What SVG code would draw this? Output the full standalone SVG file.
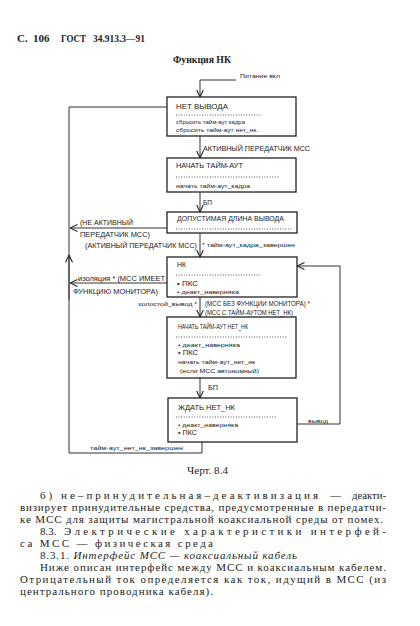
<svg xmlns="http://www.w3.org/2000/svg" width="420" height="626" viewBox="0 0 420 626">
<defs>
<marker id="arr" viewBox="0 0 8 8" refX="7.5" refY="4" markerWidth="8" markerHeight="8" markerUnits="userSpaceOnUse" orient="auto">
<path d="M0,0.5 L7.5,4 L0,7.5" fill="none" stroke="#222" stroke-width="1.1"/>
</marker>
<style>
.bx{fill:#fff;stroke:#222;stroke-width:1.3}
.ln{fill:none;stroke:#333;stroke-width:1}
.dt{stroke:#444;stroke-width:0.9;stroke-dasharray:1,1.6}
.t{font-family:"Liberation Sans",Arial,sans-serif;font-size:6px;fill:#222}
.h{font-family:"Liberation Sans",Arial,sans-serif;font-size:6.5px;fill:#222}
.p{font-family:"Liberation Serif","Times New Roman",serif;font-size:11px;fill:#222}
</style>
</defs>
<rect width="420" height="626" fill="#fff"/>
<text class="p" x="17" y="42" style="font-size:11px;font-weight:bold">С. <tspan x="33">106</tspan><tspan x="61" textLength="25" lengthAdjust="spacingAndGlyphs">ГОСТ</tspan><tspan x="93" textLength="52" lengthAdjust="spacingAndGlyphs">34.913.3—91</tspan></text>
<text class="p" x="173" y="63" style="font-size:10px;font-weight:bold" textLength="58" lengthAdjust="spacingAndGlyphs">Функция  НК</text>

<g id="connectors">
<polyline class="ln" points="236,80 200,80 200,97" marker-end="url(#arr)"/>
<line class="ln" x1="200" y1="136" x2="200" y2="158" marker-end="url(#arr)"/>
<line class="ln" x1="200" y1="192" x2="200" y2="212" marker-end="url(#arr)"/>
<line class="ln" x1="200" y1="233" x2="200" y2="257" marker-end="url(#arr)"/>
<line class="ln" x1="200" y1="297" x2="200" y2="317" marker-end="url(#arr)"/>
<line class="ln" x1="200" y1="378" x2="200" y2="398" marker-end="url(#arr)"/>
<polyline class="ln" points="202,442 202,453 69,453 69,107 167,107"/>
<line class="ln" x1="69" y1="300" x2="69" y2="255" marker-end="url(#arr)"/>
<line class="ln" x1="167" y1="228" x2="70" y2="228" marker-end="url(#arr)"/>
<line class="ln" x1="167" y1="283" x2="70" y2="283" marker-end="url(#arr)"/>
<polyline class="ln" points="297,424 340,424 340,266 297,266" marker-end="url(#arr)"/>
</g>

<g id="labels">
<text class="t" x="240" y="78" textLength="40" lengthAdjust="spacingAndGlyphs">Питание вкл</text>
<text class="h" x="203" y="151" textLength="107" lengthAdjust="spacingAndGlyphs">АКТИВНЫЙ ПЕРЕДАТЧИК МСС</text>
<text class="h" x="203" y="205" textLength="9" lengthAdjust="spacingAndGlyphs">БП</text>
<text class="h" x="80" y="225" textLength="53" lengthAdjust="spacingAndGlyphs">(НЕ АКТИВНЫЙ</text>
<text class="h" x="80" y="237" textLength="70" lengthAdjust="spacingAndGlyphs">ПЕРЕДАТЧИК МСС)</text>
<text class="h" x="85" y="248" textLength="112" lengthAdjust="spacingAndGlyphs">(АКТИВНЫЙ ПЕРЕДАТЧИК МСС)</text>
<text class="t" x="202" y="247" textLength="93" lengthAdjust="spacingAndGlyphs">* тайм-аут_кадра_завершен</text>
<text class="h" x="78" y="281" textLength="87" lengthAdjust="spacingAndGlyphs">изоляция  *  (МСС ИМЕЕТ</text>
<text class="h" x="73" y="294" textLength="85" lengthAdjust="spacingAndGlyphs">ФУНКЦИЮ МОНИТОРА)</text>
<text class="t" x="138" y="306" textLength="59" lengthAdjust="spacingAndGlyphs">холостой_вывод *</text>
<text class="h" x="205" y="306" textLength="105" lengthAdjust="spacingAndGlyphs">(МСС БЕЗ ФУНКЦИИ МОНИТОРА) *</text>
<text class="h" x="205" y="315" textLength="88" lengthAdjust="spacingAndGlyphs">(МСС С ТАЙМ-АУТОМ НЕТ_НК)</text>
<text class="h" x="208" y="390" textLength="10" lengthAdjust="spacingAndGlyphs">БП</text>
<text class="t" x="308" y="423" textLength="20" lengthAdjust="spacingAndGlyphs">вывод</text>
<text class="t" x="90" y="450" textLength="93" lengthAdjust="spacingAndGlyphs">тайм-аут_нет_нк_завершен</text>
</g>

<g id="n1">
<rect class="bx" x="167" y="97" width="129" height="39"/>
<text class="h" x="176" y="109" textLength="52" lengthAdjust="spacingAndGlyphs">НЕТ ВЫВОДА</text>
<line class="dt" x1="176" y1="115" x2="262" y2="115"/>
<text class="t" x="176" y="124" textLength="69" lengthAdjust="spacingAndGlyphs">сбросить тайм-аут кадра</text>
<text class="t" x="176" y="132" textLength="82" lengthAdjust="spacingAndGlyphs">сбросить тайм-аут нет_нк.</text>
</g>

<g id="n2">
<rect class="bx" x="167" y="158" width="129" height="34"/>
<text class="h" x="176" y="168" textLength="67" lengthAdjust="spacingAndGlyphs">НАЧАТЬ ТАЙМ-АУТ</text>
<line class="dt" x1="176" y1="177" x2="280" y2="177"/>
<text class="t" x="176" y="188" textLength="74" lengthAdjust="spacingAndGlyphs">начать тайм-аут_кадра</text>
</g>

<g id="n3">
<rect class="bx" x="167" y="212" width="130" height="21"/>
<text class="h" x="177" y="221" textLength="107" lengthAdjust="spacingAndGlyphs">ДОПУСТИМАЯ ДЛИНА ВЫВОДА</text>
<line class="dt" x1="176" y1="229" x2="292" y2="229"/>
</g>

<g id="n4">
<rect class="bx" x="167" y="257" width="130" height="40"/>
<text class="h" x="177" y="267" textLength="9" lengthAdjust="spacingAndGlyphs">НК</text>
<line class="dt" x1="176" y1="275" x2="260" y2="275"/>
<text class="h" x="177" y="286" textLength="21" lengthAdjust="spacingAndGlyphs">• ПКС</text>
<text class="t" x="177" y="294" textLength="62" lengthAdjust="spacingAndGlyphs">• деакт_наверняка</text>
</g>

<g id="n5">
<rect class="bx" x="167" y="317" width="129" height="61"/>
<text class="h" x="178" y="329" textLength="70" lengthAdjust="spacingAndGlyphs">НАЧАТЬ ТАЙМ-АУТ НЕТ_НК</text>
<line class="dt" x1="176" y1="337" x2="287" y2="337"/>
<text class="t" x="178" y="347" textLength="62" lengthAdjust="spacingAndGlyphs">• деакт_наверняка</text>
<text class="h" x="178" y="355" textLength="20" lengthAdjust="spacingAndGlyphs">• ПКС</text>
<text class="t" x="178" y="364" textLength="77" lengthAdjust="spacingAndGlyphs">начать тайм-аут_нет_нк</text>
<text class="t" x="180" y="373" textLength="79" lengthAdjust="spacingAndGlyphs">(если МСС автономный)</text>
</g>

<g id="n6">
<rect class="bx" x="168" y="398" width="129" height="44"/>
<text class="h" x="178" y="410" textLength="57" lengthAdjust="spacingAndGlyphs">ЖДАТЬ НЕТ_НК</text>
<line class="dt" x1="176" y1="417" x2="276" y2="417"/>
<text class="t" x="178" y="427" textLength="60" lengthAdjust="spacingAndGlyphs">• деакт_наверняка</text>
<text class="h" x="178" y="435" textLength="19" lengthAdjust="spacingAndGlyphs">• ПКС</text>
</g>

<text class="p" x="187" y="474" style="font-size:10px" textLength="41" lengthAdjust="spacingAndGlyphs">Черт. 8.4</text>

<text class="p" x="40" y="499" textLength="278" lengthAdjust="spacing">6) не–принудительная–деактивизация</text>
<text class="p" x="330" y="499">—</text>
<text class="p" x="352" y="499" textLength="34" lengthAdjust="spacingAndGlyphs">деакти-</text>
<text class="p" x="20" y="511" textLength="366" lengthAdjust="spacing">визирует принудительные средства, предусмотренные в передатчи-</text>
<text class="p" x="20" y="523" textLength="363" lengthAdjust="spacing">ке МСС для защиты магистральной коаксиальной среды от помех.</text>
<text class="p" x="40" y="535">8.3.</text>
<text class="p" x="64" y="535" textLength="322" lengthAdjust="spacing">Электрические  характеристики  интерфей-</text>
<text class="p" x="20" y="547" textLength="193" lengthAdjust="spacing">са  МСС — физическая  среда</text>
<text class="p" x="40" y="559" textLength="257" lengthAdjust="spacing">8.3.1. <tspan font-style="italic">Интерфейс МСС — коаксиальный кабель</tspan></text>
<text class="p" x="40" y="571" textLength="346" lengthAdjust="spacing">Ниже описан интерфейс между МСС и коаксиальным кабелем.</text>
<text class="p" x="20" y="583" textLength="366" lengthAdjust="spacing">Отрицательный ток  определяется как  ток,  идущий в МСС  (из</text>
<text class="p" x="20" y="595" textLength="193" lengthAdjust="spacing">центрального проводника кабеля).</text>
</svg>
